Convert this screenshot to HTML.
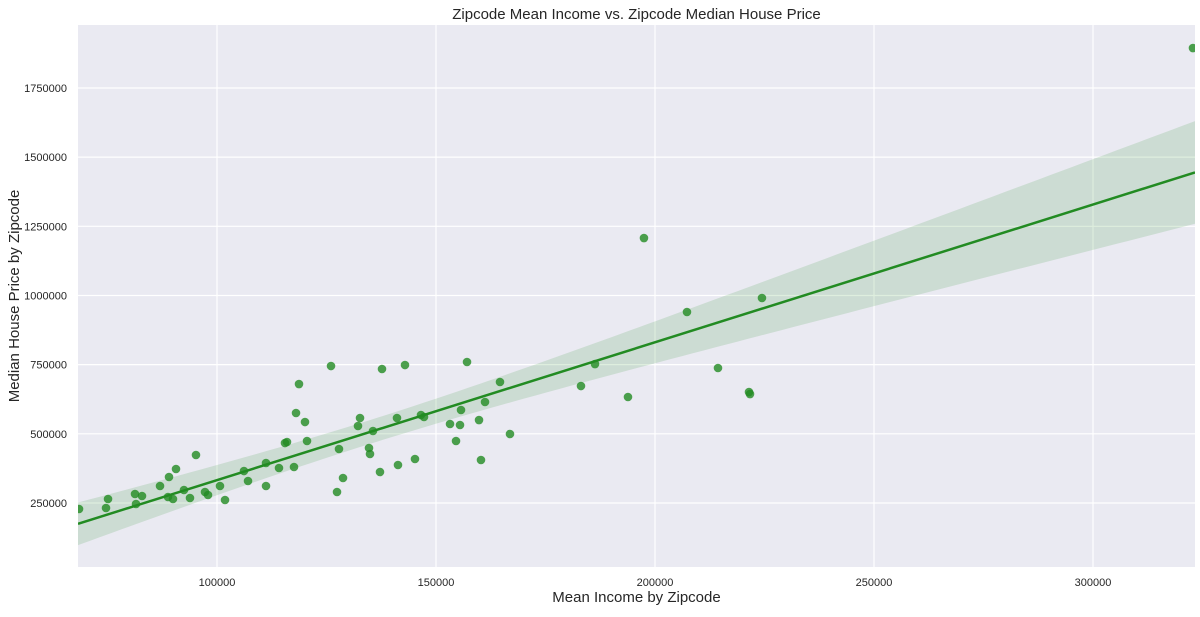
<!DOCTYPE html>
<html><head><meta charset="utf-8"><style>
body{margin:0;background:#fff;font-family:"Liberation Sans",sans-serif}
</style></head><body>
<svg id="chart" width="1200" height="612" xmlns="http://www.w3.org/2000/svg"></svg>
<script>
const incomes=[68500,74660,75120,81280,81510,82880,86990,88810,90640,89040,89950,92460,93830,95200,97260,97950,100680,101830,106160,107080,111190,111190,114150,117580,115520,115980,120550,118040,120090,118720,126030,127850,128770,127400,132190,132650,134700,137670,142920,157080,164610,161190,155710,159820,153200,155480,154570,166890,160270,146570,147260,141090,141320,134930,137210,135610,145200,186300,183100,193830,197480,207300,214380,221460,221690,224420,322820];
const prices=[228300,231900,264500,282500,246400,275300,311400,271700,372900,344000,264500,297000,268100,423500,289800,278900,311400,260800,365600,329500,311400,394600,376500,380100,466800,470400,474100,575300,542700,680000,745100,445200,340400,289800,528300,557200,448800,734300,748700,759600,687300,615000,586100,549900,535500,531900,474100,499400,405400,568000,560800,557200,387300,427100,362000,510200,409000,752300,672800,633100,1207700,940300,737900,651100,643800,990900,1894400];
const xTicks=[100000,150000,200000,250000,300000];
const yTicks=[250000,500000,750000,1000000,1250000,1500000,1750000];
const NS="http://www.w3.org/2000/svg";
const svg=document.getElementById('chart');
const L=78,R=1195,T=25,B=567;
const xMin=68265,xMax=323288;
const yAt250=503,pxPer=69.17/250000;
const X=v=>L+(v-xMin)/(xMax-xMin)*(R-L);
const Y=v=>yAt250-(v-250000)*pxPer;
function el(t,a){const e=document.createElementNS(NS,t);for(const k in a)e.setAttribute(k,a[k]);svg.appendChild(e);return e;}
const bg=el('rect',{x:L,y:T,width:R-L,height:B-T,fill:'#eaeaf2'});


xTicks.forEach(t=>{const g=el('line',{x1:X(t),x2:X(t),y1:T,y2:B,stroke:'#fff','stroke-width':1.2});


const tx=el('text',{x:X(t),y:586,'font-size':11,'text-anchor':'middle',fill:'#262626'});tx.textContent=t;

});
yTicks.forEach(t=>{const g=el('line',{x1:L,x2:R,y1:Y(t),y2:Y(t),stroke:'#fff','stroke-width':1.2});

});
const n=incomes.length;const mx=incomes.reduce((a,b)=>a+b)/n,my=prices.reduce((a,b)=>a+b)/n;
let sxx=0,sxy=0;for(let i=0;i<n;i++){sxx+=(incomes[i]-mx)**2;sxy+=(incomes[i]-mx)*(prices[i]-my);}
const slope=sxy/sxx,icpt=my-slope*mx;let sse=0;for(let i=0;i<n;i++)sse+=(prices[i]-icpt-slope*incomes[i])**2;
const s=Math.sqrt(sse/(n-2));const up=[],lo=[];
for(let k=0;k<=100;k++){const xv=xMin+(xMax-xMin)*k/100;const yh=icpt+slope*xv;const h=1.3*1.997*s*Math.sqrt(1/n+(xv-mx)**2/sxx);up.push(X(xv)+','+Y(yh+h));lo.unshift(X(xv)+','+Y(yh-h));}
const band=el('polygon',{points:up.concat(lo).join(' '),fill:'#228b22','fill-opacity':0.15});


for(let i=0;i<n;i++){const c=el('circle',{cx:X(incomes[i]),cy:Y(prices[i]),r:4.3,fill:'#228b22','fill-opacity':0.8});

}
const ln=el('line',{x1:X(xMin),y1:Y(icpt+slope*xMin),x2:X(xMax),y2:Y(icpt+slope*xMax),stroke:'#228b22','stroke-width':2.5});


const cp=el('rect',{x:0,y:0,width:L,height:612,fill:'#fff'});
const rp=el('rect',{x:R,y:0,width:10,height:612,fill:'#fff'});
const bp=el('rect',{x:0,y:B,width:1200,height:45,fill:'#fff'});
xTicks.forEach(t=>{const tx=el('text',{x:X(t),y:586,'font-size':11,'text-anchor':'middle',fill:'#262626'});tx.textContent=t;

});
yTicks.forEach(t=>{const tx=el('text',{x:67,y:Y(t)+4,'font-size':11,'text-anchor':'end',fill:'#262626'});tx.textContent=t;

});
const ttl=el('text',{x:(L+R)/2,y:19,'font-size':15,'text-anchor':'middle',fill:'#262626'});ttl.textContent='Zipcode Mean Income vs. Zipcode Median House Price';


const xl=el('text',{x:(L+R)/2,y:602,'font-size':15,'text-anchor':'middle',fill:'#262626'});xl.textContent='Mean Income by Zipcode';


const yl=el('text',{x:0,y:0,'font-size':15,'text-anchor':'middle',fill:'#262626',transform:'translate(19,'+(T+B)/2+') rotate(-90)'});yl.textContent='Median House Price by Zipcode';


</script>
</body></html>
